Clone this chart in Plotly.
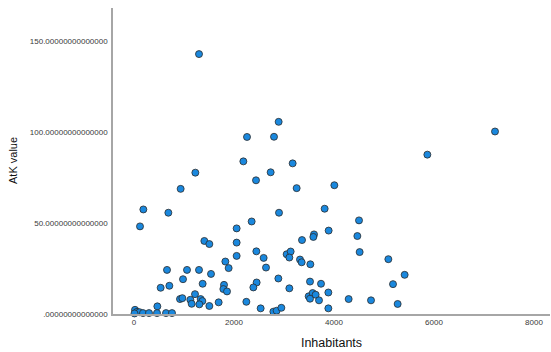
import plotly.graph_objects as go

# Inhabitants per locality and the corresponding AtK value
inhabitants = [
    1300, 2893, 2260, 2800, 7220, 5867, 2187, 3173, 1227, 2733,
    2440, 933, 3253, 4007, 187, 687, 120, 2353, 2900, 2053,
    3600, 3587, 3360, 1407, 1507, 2053, 2447, 3053, 3133, 3107,
    2053, 1827, 1893, 2593, 2640, 3320, 3353, 3527, 660, 1060,
    1300, 1540, 980, 2887, 3520, 1373, 533, 707, 1800, 1787,
    1860, 2453, 2387, 3107, 1220, 920, 967, 1127, 1153, 1333,
    1367, 1307, 1507, 1693, 2247, 2533, 2787, 2853, 2947, 467,
    20, 60, 110, 180, 300, 460, 640, 760, 10,
    4513, 5087, 3740, 3887, 3493, 3573, 3520, 3633, 3700, 4293,
    4740, 3887, 3813, 4500, 3893, 4467, 5413, 5180, 5273,
]
atk_value = [
    142.7, 105.5, 97.2, 97.3, 100.2, 87.5, 83.8, 82.7, 77.6, 77.8,
    73.4, 68.7, 69.1, 70.7, 57.4, 55.6, 48.1, 50.8, 55.6, 47.0,
    43.7, 42.3, 40.6, 40.1, 38.4, 39.2, 34.4, 32.8, 34.3, 31.0,
    31.9, 28.8, 25.2, 30.8, 25.5, 29.9, 28.4, 27.3, 24.2, 24.2,
    24.2, 22.0, 19.1, 19.5, 17.8, 16.6, 14.4, 15.5, 16.0, 13.7,
    12.4, 17.3, 14.6, 14.1, 10.9, 8.2, 8.7, 7.8, 5.6, 8.2,
    7.1, 5.3, 4.4, 6.4, 6.7, 3.1, 1.3, 1.8, 3.4, 4.2,
    2.3, 1.2, 1.0, 0.5, 0.5, 0.5, 0.5, 0.5, 0.3,
    34.0, 30.1, 16.6, 11.8, 9.7, 11.5, 8.4, 10.6, 7.5, 8.2,
    7.5, 3.1, 57.8, 51.4, 45.8, 42.8, 21.5, 16.4, 5.5,
]

x_ticks = [0, 2000, 4000, 6000, 8000]
y_ticks = [0, 50, 100, 150]
y_tick_text = [
    ".00000000000000",
    "50.00000000000000",
    "100.00000000000000",
    "150.00000000000000",
]

fig = go.Figure(
    go.Scatter(
        x=inhabitants,
        y=atk_value,
        mode="markers",
        cliponaxis=False,
        marker=dict(
            size=7,
            color="#1a88de",
            line=dict(color="#2b2b2b", width=0.8),
        ),
        showlegend=False,
    )
)

axis_line = "#a6a6a6"
plot_left, plot_width = 113, 437
fig.update_layout(
    width=551,
    height=352,
    margin=dict(l=plot_left, r=1, t=8, b=38),
    paper_bgcolor="white",
    plot_bgcolor="white",
    font=dict(family="Liberation Sans, Arial, sans-serif", color="#333333"),
    xaxis=dict(
        range=[-420, 8320],
        tickvals=x_ticks,
        showgrid=False,
        zeroline=False,
        showline=True,
        linecolor=axis_line,
        linewidth=1.5,
        ticks="",
        tickfont=dict(size=8, color="#3a3a3a"),
        title=dict(
            text="Inhabitants",
            font=dict(size=12.5, color="#111111"),
            standoff=12,
        ),
    ),
    yaxis=dict(
        range=[0, 168],
        tickvals=y_ticks,
        ticktext=y_tick_text,
        showgrid=False,
        zeroline=False,
        showline=True,
        linecolor=axis_line,
        linewidth=1.5,
        ticks="",
        ticklabelstandoff=2,
        tickfont=dict(size=8, color="#3a3a3a"),
    ),
    annotations=[
        dict(
            text="AtK value",
            textangle=-90,
            xref="paper",
            yref="paper",
            x=(13 - plot_left) / plot_width,
            y=0.5,
            xanchor="center",
            yanchor="middle",
            showarrow=False,
            font=dict(size=11, color="#111111"),
        )
    ],
)

fig.write_html("out.html")
